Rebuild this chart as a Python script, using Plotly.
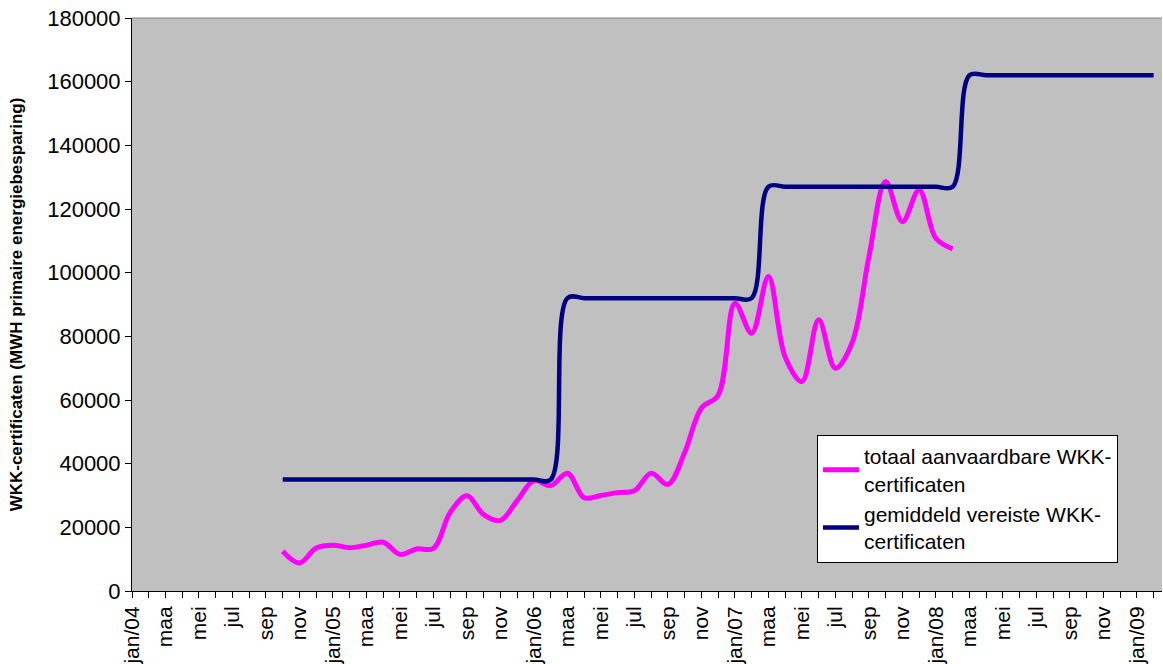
import plotly.graph_objects as go

# Categories: monthly, jan/04 .. feb/09
month_names = ["jan", "feb", "maa", "apr", "mei", "jun", "jul", "aug", "sep", "okt", "nov", "dec"]
years = ["04", "05", "06", "07", "08", "09"]
categories = []
for y in years:
    for m_i, m in enumerate(month_names):
        categories.append(f"{m}/{y}" if m_i == 0 else m)
categories = categories[:62]

# Series: totaal aanvaardbare WKK-certificaten (okt/04 .. feb/08)
totaal_start = 9
totaal_values = [12500, 8800, 13500, 14400, 13600, 14400, 15300, 11500, 13200, 13400,
                 24700, 29900, 24000, 22200, 28400, 34700, 33100, 37000, 29300, 30000,
                 30900, 31500, 37000, 33500, 43500, 57500, 61500, 90400, 81000, 98800,
                 73500, 65800, 85200, 70000, 78000, 105000, 128600, 116000, 126000, 110800,
                 107500]

# Series: gemiddeld vereiste WKK-certificaten (okt/04 .. feb/09)
vereist_start = 9
vereist_values = [35000] * 17 + [92000] * 12 + [127000] * 12 + [162000] * 12

y_ticks = list(range(0, 180001, 20000))

x_all = list(range(len(categories)))
tick_text = [c if i % 2 == 0 else "" for i, c in enumerate(categories)]

fig = go.Figure()
fig.add_trace(go.Scatter(
    x=x_all[totaal_start:totaal_start + len(totaal_values)],
    y=totaal_values,
    mode="lines",
    line=dict(color="#FF00FF", width=5, shape="spline", smoothing=1),
    name="totaal aanvaardbare WKK-<br>certificaten",
))
fig.add_trace(go.Scatter(
    x=x_all[vereist_start:vereist_start + len(vereist_values)],
    y=vereist_values,
    mode="lines",
    line=dict(color="#000080", width=4.5, shape="spline", smoothing=1),
    name="gemiddeld vereiste WKK-<br>certificaten",
))

font_family = "Liberation Sans, Arial, sans-serif"

fig.update_layout(
    width=1163, height=664,
    margin=dict(l=132, r=1, t=18, b=73),
    paper_bgcolor="white",
    plot_bgcolor="#C0C0C0",
    font=dict(family=font_family, size=22, color="black"),
    showlegend=True,
    legend=dict(
        x=(817 - 132) / 1030, y=(591 - 435) / 573,
        xanchor="left", yanchor="top",
        bgcolor="white", bordercolor="black", borderwidth=1,
        font=dict(size=21, family=font_family),
        tracegroupgap=0,
        itemwidth=36,
    ),
    xaxis=dict(
        range=[0, 61.5],
        tickmode="array",
        tickvals=x_all,
        ticktext=tick_text,
        tickangle=-90,
        ticks="outside", ticklen=6, tickcolor="black",
        showline=True, linecolor="black", linewidth=1,
        showgrid=False, zeroline=False,
        tickfont=dict(size=21, family=font_family),
        automargin=False,
    ),
    yaxis=dict(
        range=[0, 180000],
        tickmode="array",
        tickvals=y_ticks,
        ticktext=[str(v) for v in y_ticks],
        ticks="outside", ticklen=6, tickcolor="black",
        showline=True, linecolor="black", linewidth=1,
        showgrid=False, zeroline=False,
        tickfont=dict(size=22, family=font_family),
        automargin=False,
        title=dict(text="<b>WKK-certificaten (MWH primaire energiebesparing)</b>",
                   font=dict(size=17, family=font_family), standoff=20),
    ),
    shapes=[dict(type="line", xref="paper", yref="paper", x0=0, x1=1, y0=1, y1=1,
                 line=dict(color="#808080", width=1))],
)

fig.write_html("out.html")
